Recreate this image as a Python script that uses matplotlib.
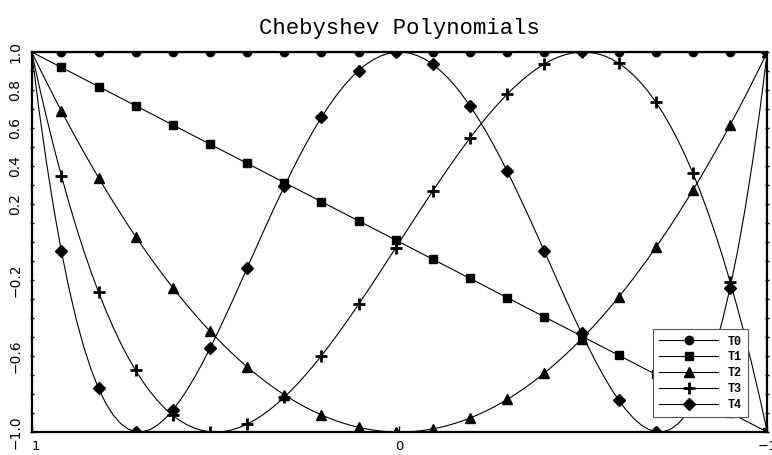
import numpy as np
import matplotlib
matplotlib.use('Agg')
import matplotlib.pyplot as plt
from matplotlib.lines import Line2D
from matplotlib.legend_handler import HandlerLine2D

# power-basis coefficients of the first five Chebyshev polynomials
names = ['T0', 'T1', 'T2', 'T3', 'T4']
coeffs = [[1], [0, 1], [-1, 0, 2], [0, -3, 0, 4], [1, 0, -8, 0, 8]]
markers = ['o', 's', '^', '+', 'D']
msizes = [6, 6, 7, 8, 6]

npts = 100        # samples per curve
mark_step = 5     # a marker on every 5th sample

ytick_vals = [1.0, 0.8, 0.6, 0.4, 0.2, -0.2, -0.6, -1.0]
ytick_text = ['1.0', '0.8', '0.6', '0.4', '0.2', '\u22120.2', '\u22120.6', '\u22121.0']
xtick_vals = [1, 0, -1]
xtick_text = ['1', '0', '\u22121']


class LeftMarker(HandlerLine2D):
    # legend key with the marker at the left end of the line
    def get_xdata(self, legend, xdescent, ydescent, width, height, fontsize):
        xdata = np.array([-xdescent, -xdescent + width])
        return xdata, xdata[:1]


fig = plt.figure(figsize=(7.72, 4.55), dpi=100)
ax = fig.add_axes([0.041, 0.0505, 0.9529, 0.8352])

x = np.linspace(-1, 1, npts)
lines = []
for name, c, m, ms in zip(names, coeffs, markers, msizes):
    y = np.polynomial.Polynomial(c)(x)
    mew = 2.0 if m == '+' else 1.0
    ln, = ax.plot(x, y, color='k', lw=0.8, marker=m, ms=ms, mew=mew,
                  mfc='k', mec='k', markevery=mark_step, label=name)
    lines.append(ln)

ax.set_xlim(1, -1)
ax.set_ylim(-1, 1)

for s in ax.spines.values():
    s.set_linewidth(1.6)

# labelled y ticks plus unlabelled ticks every 0.1
ax.set_yticks(ytick_vals)
ax.set_yticklabels(ytick_text, rotation=90, va='center', fontsize=10)
ax.set_yticks(np.arange(-1.0, 1.05, 0.1), minor=True)
ax.tick_params(axis='y', which='both', left=True, right=True, direction='out',
               length=3, width=1, pad=5)
ax.tick_params(axis='y', which='both', right=True, direction='inout')

ax.set_xticks(xtick_vals)
ax.set_xticklabels(xtick_text, fontsize=9.5)
ax.get_xticklabels()[0].set_ha('left')
ax.tick_params(axis='x', direction='in', length=4, width=1, pad=6)

ax.set_title('Chebyshev Polynomials', family='Liberation Mono', fontsize=16, pad=13)

leg = ax.legend(handles=lines, loc='lower right', bbox_to_anchor=(0.974, 0.039),
                borderaxespad=0, fancybox=False, framealpha=1, edgecolor='#555555',
                handlelength=5.0, handletextpad=0.8, labelspacing=0.32,
                borderpad=0.55, prop={'family': 'Liberation Mono', 'weight': 'bold', 'size': 8.5},
                handler_map={Line2D: LeftMarker()})
leg.get_frame().set_linewidth(0.8)

fig.savefig('out.png', dpi=100)
